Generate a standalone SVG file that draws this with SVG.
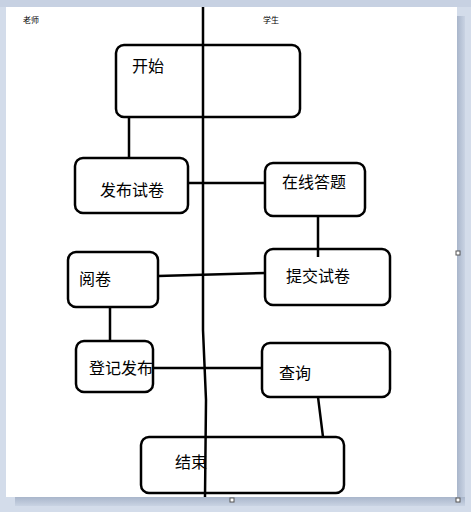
<svg xmlns="http://www.w3.org/2000/svg" width="471" height="512" viewBox="0 0 471 512">
<defs>
<linearGradient id="shR" x1="0" y1="0" x2="1" y2="0">
<stop offset="0" stop-color="#a9b6cb"/><stop offset="1" stop-color="#c9d3e3"/>
</linearGradient>
<linearGradient id="shB" x1="0" y1="0" x2="0" y2="1">
<stop offset="0" stop-color="#a9b6cb"/><stop offset="1" stop-color="#c9d3e3"/>
</linearGradient>
<style>
.box{fill:#fff;stroke:#000;stroke-width:2.5}
.ln{fill:none;stroke:#000;stroke-width:2.5}
.t{font-family:"Noto Sans CJK SC","Microsoft YaHei",sans-serif;font-size:16px;fill:#000}
.s{font-family:"Noto Sans CJK SC",sans-serif;font-size:8px;fill:#000}
.h{fill:#fff;stroke:#555;stroke-width:1}
</style>
</defs>
<rect x="0" y="0" width="471" height="512" fill="#d3dcea"/>
<rect x="0" y="0" width="471" height="7" fill="#c7d1e2"/>
<rect x="457" y="16" width="8" height="490" fill="url(#shR)"/>
<rect x="15" y="497" width="450" height="9" fill="url(#shB)"/>
<rect x="6" y="7" width="451" height="490" fill="#fff"/>
<rect class="h" x="456" y="251" width="4" height="4"/>
<rect class="h" x="456" y="498" width="4" height="4"/>
<rect class="h" x="230" y="498" width="4" height="4"/>

<text class="s" x="23" y="23">老师</text>
<text class="s" x="263" y="23">学生</text>

<g id="start"><rect class="box" x="116" y="45" width="184" height="72" rx="8"/><text class="t" x="132" y="72">开始</text></g>
<g id="publish"><rect class="box" x="75" y="158" width="113" height="55" rx="8"/><text class="t" x="100" y="196">发布试卷</text></g>
<g id="answer"><rect class="box" x="265" y="163" width="100" height="53" rx="8"/><text class="t" x="282" y="188">在线答题</text></g>
<g id="submit"><rect class="box" x="265" y="249" width="125" height="56" rx="8"/><text class="t" x="286" y="282">提交试卷</text></g>
<g id="review"><rect class="box" x="68" y="252" width="90" height="55" rx="8"/><text class="t" x="79" y="285">阅卷</text></g>
<g id="register"><rect class="box" x="76" y="341" width="77" height="51" rx="8"/><text class="t" x="89" y="374">登记发布</text></g>
<g id="query"><rect class="box" x="262" y="343" width="128" height="54" rx="8"/><text class="t" x="279" y="379">查询</text></g>
<g id="end"><rect class="box" x="141" y="437" width="203" height="56" rx="8"/><text class="t" x="175" y="468">结束</text></g>

<g id="connectors">
<polyline class="ln" points="203,7 203,330 206,400 205,497"/>
<line class="ln" x1="129" y1="117" x2="129" y2="158"/>
<line class="ln" x1="188" y1="183" x2="265" y2="183"/>
<line class="ln" x1="318" y1="216" x2="318" y2="257"/>
<line class="ln" x1="158" y1="276" x2="265" y2="273"/>
<line class="ln" x1="110" y1="307" x2="110" y2="342"/>
<line class="ln" x1="153" y1="368" x2="263" y2="368"/>
<line class="ln" x1="318" y1="397" x2="323" y2="437"/>
</g>
</svg>
